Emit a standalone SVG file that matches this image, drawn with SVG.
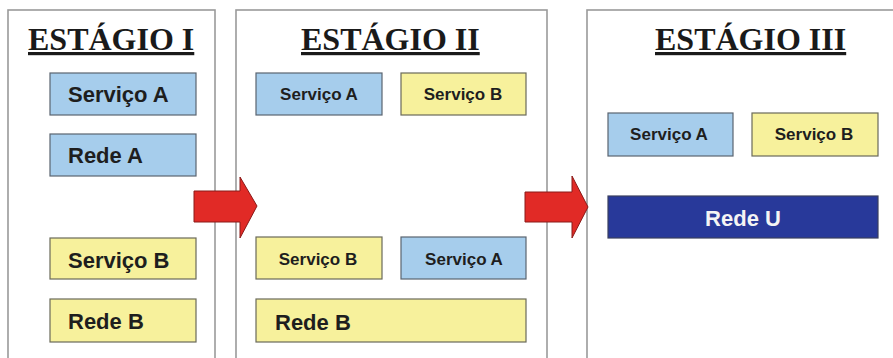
<svg xmlns="http://www.w3.org/2000/svg" width="893" height="358" viewBox="0 0 893 358">
<style>
.panel{fill:#fff;stroke:#9a9a9a;stroke-width:1.6}
.title{font-family:"Liberation Serif",serif;font-weight:bold;font-size:32px;fill:#1a1a1a;text-decoration:underline}
.blue{fill:#a6cdec;stroke:#5a6470;stroke-width:1.2}
.yellow{fill:#f7f19c;stroke:#6a6a5a;stroke-width:1.2}
.navy{fill:#28399a;stroke:#3a4060;stroke-width:1.2}
.lbl{font-family:"Liberation Sans",Arial,sans-serif;font-weight:bold;fill:#1e1e1e}
.big{font-size:22px}
.small{font-size:17px}
.white{fill:#f4f4f4}
.arrow{fill:#e12a26;stroke:#8a1a18;stroke-width:1}
</style>
<rect width="893" height="358" fill="#fff"/>
<g id="stage1">
<rect class="panel" x="8" y="10" width="207" height="360"/>
<text class="title" x="28" y="50">ESTÁGIO I</text>
</g>
<g id="stage2">
<rect class="panel" x="236" y="10" width="311" height="360"/>
<text class="title" x="301" y="50">ESTÁGIO II</text>
</g>
<g id="stage3">
<rect class="panel" x="587" y="10" width="330" height="360"/>
<text class="title" x="655" y="50">ESTÁGIO III</text>
</g>
<g id="s1-servicoA"><rect class="blue" x="50" y="73" width="146" height="42"/><text class="lbl big" x="68" y="102">Serviço A</text></g>
<g id="s1-redeA"><rect class="blue" x="50" y="134" width="146" height="42"/><text class="lbl big" x="68" y="163">Rede A</text></g>
<g id="s1-servicoB"><rect class="yellow" x="50" y="238" width="146" height="41"/><text class="lbl big" x="68" y="268">Serviço B</text></g>
<g id="s1-redeB"><rect class="yellow" x="50" y="299" width="146" height="43"/><text class="lbl big" x="68" y="329">Rede B</text></g>
<g id="s2-servicoA"><rect class="blue" x="256" y="73" width="126" height="42"/><text class="lbl small" x="319" y="100" text-anchor="middle">Serviço A</text></g>
<g id="s2-servicoB"><rect class="yellow" x="401" y="73" width="125" height="42"/><text class="lbl small" x="463" y="100" text-anchor="middle">Serviço B</text></g>
<g id="s2-servicoB2"><rect class="yellow" x="256" y="237" width="126" height="42"/><text class="lbl small" x="318" y="265" text-anchor="middle">Serviço B</text></g>
<g id="s2-servicoA2"><rect class="blue" x="401" y="237" width="125" height="42"/><text class="lbl small" x="464" y="265" text-anchor="middle">Serviço A</text></g>
<g id="s2-redeB"><rect class="yellow" x="256" y="299" width="270" height="43"/><text class="lbl big" x="275" y="330">Rede B</text></g>
<g id="s3-servicoA"><rect class="blue" x="608" y="113" width="125" height="43"/><text class="lbl small" x="669" y="140" text-anchor="middle">Serviço A</text></g>
<g id="s3-servicoB"><rect class="yellow" x="752" y="113" width="126" height="43"/><text class="lbl small" x="814" y="140" text-anchor="middle">Serviço B</text></g>
<g id="s3-redeU"><rect class="navy" x="608" y="196" width="270" height="42"/><text class="lbl big white" x="743" y="226" text-anchor="middle">Rede U</text></g>
<g id="connectors">
<path class="arrow" d="M194,191 H240 V177 L257,206 L240,238 V222 H194 Z"/>
<path class="arrow" d="M525,192 H572 V176 L588,207 L572,238 V222 H525 Z"/>
</g>
</svg>
